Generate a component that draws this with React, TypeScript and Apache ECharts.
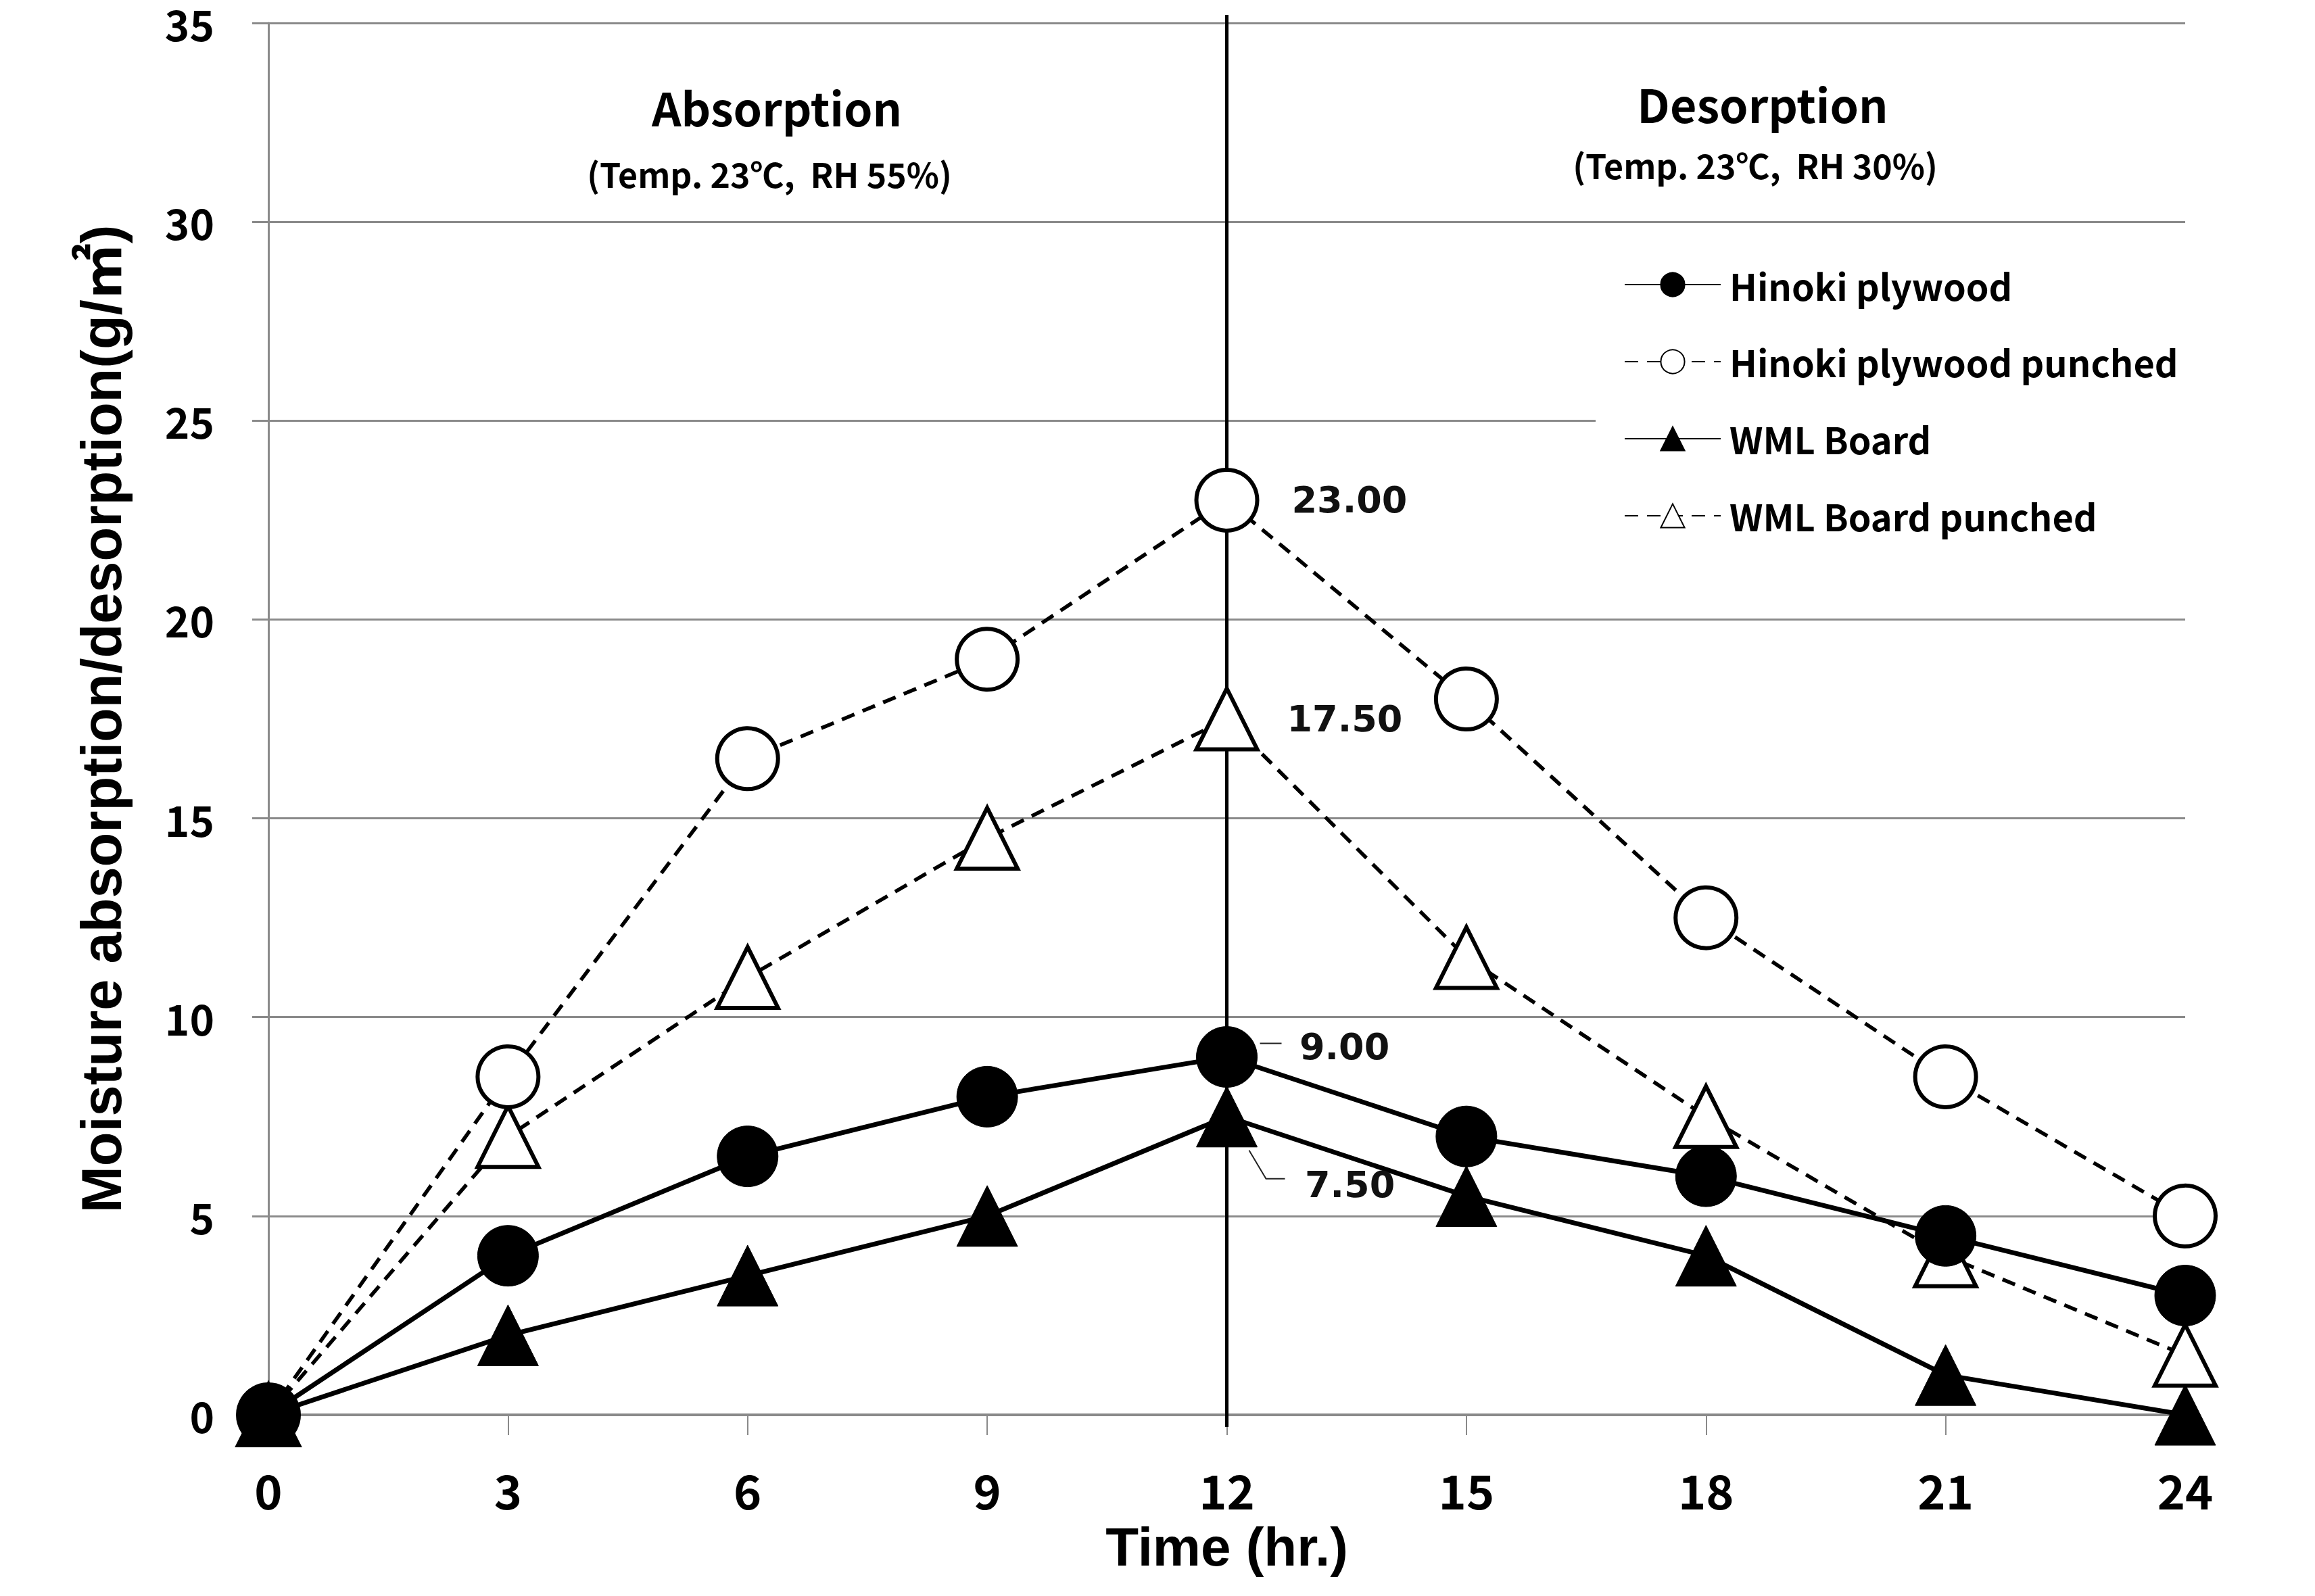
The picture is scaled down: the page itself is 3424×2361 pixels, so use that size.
import React, { useEffect, useRef } from "react";
import * as echarts from "echarts";

const hours = [0, 3, 6, 9, 12, 15, 18, 21, 24];
const hinoki = [0, 4, 6.5, 8, 9, 7, 6, 4.5, 3];
const hinokiPunched = [0, 8.5, 16.5, 19, 23, 18, 12.5, 8.5, 5];
const wml = [0, 2, 3.5, 5, 7.5, 5.5, 4, 1, 0];
const wmlPunched = [0, 7, 11, 14.5, 17.5, 11.5, 7.5, 4, 1.5];

const seriesNames = ["Hinoki plywood", "Hinoki plywood punched", "WML Board", "WML Board punched"];
const yTicks = { min: 0, max: 35, interval: 5 };
const xTicks = { min: 0, max: 24, interval: 3 };
const labelHour = 12;

const TICK_FONT = "'Noto Sans CJK KR', 'Noto Sans', sans-serif";
const TITLE_FONT = "'Liberation Sans', Arial, 'Noto Sans CJK KR', sans-serif";
const VALUE_FONT = "'DejaVu Sans', Verdana, sans-serif";
const GRAY = "#8a8a8a";
const SYM = 90;

function buildData(values: number[], labelPos: number[]) {
  return hours.map((h, i) => {
    if (h === labelHour) {
      return {
        value: [h, values[i]],
        label: {
          show: true,
          formatter: values[i].toFixed(2),
          position: labelPos,
          align: "left",
          verticalAlign: "middle",
          fontFamily: VALUE_FONT,
          fontWeight: "bold",
          fontSize: 54,
          color: "#111",
        },
      };
    }
    return { value: [h, values[i]] };
  });
}

export default function App() {
  const ref = useRef<HTMLDivElement>(null);

  useEffect(() => {
    document.body.style.margin = "0";
    document.body.style.overflow = "hidden";
    const chart = echarts.init(ref.current!, undefined, { renderer: "svg" });

    const solid = { color: "#000", width: 7, type: "solid" as const };
    const dashed = { color: "#000", width: 5.5, type: [20, 13] as any };

    const option: any = {
      animation: false,
      backgroundColor: "#fff",
      grid: { left: 397, right: 192, top: 34, bottom: 268 },
      xAxis: {
        type: "value",
        min: xTicks.min,
        max: xTicks.max,
        interval: xTicks.interval,
        name: "Time (hr.)",
        nameLocation: "middle",
        nameGap: 155,
        nameTextStyle: { fontFamily: TITLE_FONT, fontWeight: "bold", fontSize: 80, color: "#000" },
        axisLine: { show: true, lineStyle: { color: GRAY, width: 4 } },
        axisTick: { show: true, length: 30, lineStyle: { color: GRAY, width: 2 } },
        axisLabel: { margin: 74, fontFamily: TICK_FONT, fontWeight: "bold", fontSize: 70, color: "#000" },
        splitLine: { show: false },
      },
      yAxis: {
        type: "value",
        min: yTicks.min,
        max: yTicks.max,
        interval: yTicks.interval,
        name: "Moisture absorption/desorption(g/㎡)",
        nameLocation: "middle",
        nameGap: 205,
        nameTextStyle: { fontFamily: TITLE_FONT, fontWeight: "bold", fontSize: 83, color: "#000" },
        axisLine: { show: true, lineStyle: { color: GRAY, width: 3 } },
        axisTick: { show: true, length: 24, lineStyle: { color: GRAY, width: 3 } },
        axisLabel: { margin: 80, fontFamily: TICK_FONT, fontWeight: "bold", fontSize: 62, color: "#000" },
        splitLine: { show: true, lineStyle: { color: GRAY, width: 3 } },
      },
      legend: {
        orient: "vertical",
        left: 2360,
        top: 348,
        backgroundColor: "#fff",
        padding: [46, 20, 52, 42],
        itemWidth: 142,
        itemHeight: 44,
        itemGap: 60,
        textStyle: { fontFamily: TICK_FONT, fontWeight: "bold", fontSize: 54, color: "#000", padding: [0, 0, 0, 8] },
        data: seriesNames,
      },
      series: [
        {
          name: seriesNames[3],
          type: "line",
          z: 2,
          symbol: "triangle",
          symbolSize: SYM,
          lineStyle: dashed,
          itemStyle: { color: "#fff", borderColor: "#000", borderWidth: 6 },
          data: buildData(wmlPunched, [137, 48]),
        },
        {
          name: seriesNames[1],
          type: "line",
          z: 3,
          symbol: "circle",
          symbolSize: SYM,
          lineStyle: dashed,
          itemStyle: { color: "#fff", borderColor: "#000", borderWidth: 6 },
          data: buildData(hinokiPunched, [144, 48]),
        },
        {
          name: seriesNames[0],
          type: "line",
          z: 4,
          symbol: "circle",
          symbolSize: SYM,
          lineStyle: solid,
          itemStyle: { color: "#000", borderColor: "#000", borderWidth: 1 },
          data: buildData(hinoki, [153, 30]),
        },
        {
          name: seriesNames[2],
          type: "line",
          z: 5,
          symbol: "triangle",
          symbolSize: SYM,
          lineStyle: solid,
          itemStyle: { color: "#000", borderColor: "#000", borderWidth: 1 },
          data: buildData(wml, [161, 146]),
        },
      ],
    };

    chart.setOption(option);

    const toPx = (x: number, y: number) => chart.convertToPixel({ gridIndex: 0 }, [x, y]) as number[];
    const top = toPx(labelHour, yTicks.max);
    const bottom = toPx(labelHour, 0);
    const p9 = toPx(labelHour, hinoki[hours.indexOf(labelHour)]);
    const p75 = toPx(labelHour, wml[hours.indexOf(labelHour)]);
    const regionFont = { fontFamily: TICK_FONT, fontWeight: "bold", fill: "#000", align: "center", verticalAlign: "middle" };

    chart.setOption({
      graphic: [
        {
          type: "line",
          z: 1,
          shape: { x1: top[0], y1: top[1] - 12, x2: bottom[0], y2: bottom[1] + 18 },
          style: { stroke: "#000", lineWidth: 5 },
        },
        {
          type: "polyline",
          z: 10,
          shape: { points: [[p9[0] + 49, p9[1] - 20], [p9[0] + 81, p9[1] - 20]] },
          style: { stroke: "#222", lineWidth: 2, fill: null },
        },
        {
          type: "polyline",
          z: 10,
          shape: { points: [[p75[0] + 33, p75[1] + 50], [p75[0] + 58, p75[1] + 92], [p75[0] + 86, p75[1] + 92]] },
          style: { stroke: "#222", lineWidth: 2, fill: null },
        },
        { type: "text", x: 1149, y: 157, style: { ...regionFont, text: "Absorption", fontSize: 68 } },
        { type: "text", x: 1138, y: 256, style: { ...regionFont, text: "(Temp. 23℃,\u00a0\u00a0RH 55%)", fontSize: 50 } },
        { type: "text", x: 2607, y: 152, style: { ...regionFont, text: "Desorption", fontSize: 68 } },
        { type: "text", x: 2596, y: 243, style: { ...regionFont, text: "(Temp. 23℃,\u00a0\u00a0RH 30%)", fontSize: 50 } },
      ],
    });

    return () => chart.dispose();
  }, []);

  return <div ref={ref} style={{ width: 3424, height: 2361 }} />;
}
